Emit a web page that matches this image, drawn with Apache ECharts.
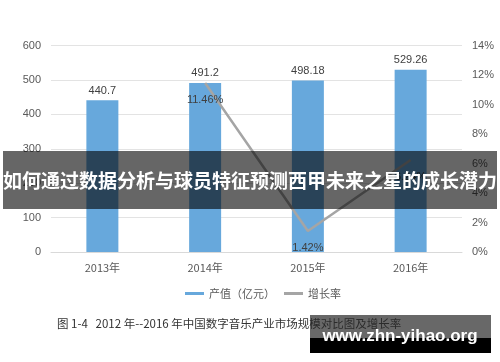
<!DOCTYPE html>
<html><head><meta charset="utf-8">
<script src="https://cdn.jsdelivr.net/npm/echarts@6/dist/echarts.min.js"></script>
<style>html,body{margin:0;padding:0;background:#fff;}#c{width:500px;height:362px;}</style>
</head><body><div id="c"></div>
<script>
var categories = ['2013年', '2014年', '2015年', '2016年'];
var outputValues = [440.7, 491.2, 498.18, 529.26];
var growthRates = [null, 11.46, 1.42, 6.24];
var leftTicks = [0, 600, 100];
var rightTicks = [0, 14, 2];
var seriesNames = ['产值（亿元）', '增长率'];
var bannerText = '如何通过数据分析与球员特征预测西甲未来之星的成长潜力';
var captionText = '图 1-4   2012 年--2016 年中国数字音乐产业市场规模对比图及增长率';
var watermarkText = 'www.zhn-yihao.org';

var chart = echarts.init(document.getElementById('c'), null, {renderer: 'canvas'});
var axisLabelStyle = {color: '#595959', fontSize: 11, fontFamily: 'Liberation Sans, Arial, sans-serif'};
chart.setOption({
  animation: false,
  grid: {left: 51, right: 38, top: 45.5, bottom: 110},
  legend: {
    bottom: 58, left: 180, itemGap: 9,
    textStyle: {color: '#595959', fontSize: 11, fontFamily: 'Noto Sans CJK SC'},
    data: [
      {name: seriesNames[0], icon: 'rect', itemStyle: {color: '#67a8dc'}},
      {name: seriesNames[1], icon: 'rect', itemStyle: {color: '#a5a5a5'}}
    ],
    itemWidth: 19, itemHeight: 3
  },
  xAxis: {
    type: 'category', data: categories,
    axisLine: {lineStyle: {color: '#d9d9d9'}}, axisTick: {show: false},
    axisLabel: Object.assign({margin: 10}, axisLabelStyle, {fontFamily: 'Noto Sans CJK SC'})
  },
  yAxis: [
    {type: 'value', min: leftTicks[0], max: leftTicks[1], interval: leftTicks[2],
     axisLine: {show: false}, axisTick: {show: false},
     splitLine: {lineStyle: {color: '#e3e3e3'}},
     axisLabel: Object.assign({margin: 10}, axisLabelStyle)},
    {type: 'value', min: rightTicks[0], max: rightTicks[1], interval: rightTicks[2],
     axisLine: {show: false}, axisTick: {show: false}, splitLine: {show: false},
     axisLabel: Object.assign({margin: 10, formatter: '{value}%'}, axisLabelStyle)}
  ],
  series: [
    {name: seriesNames[0], type: 'bar', data: outputValues, barWidth: 32,
     itemStyle: {color: '#67a8dc'},
     label: {show: true, position: 'top', distance: 4, color: '#404040', fontSize: 11, fontFamily: 'Liberation Sans, Arial, sans-serif'}},
    {name: seriesNames[1], type: 'line', yAxisIndex: 1, data: growthRates, z: 3,
     symbol: 'circle', symbolSize: 1, showSymbol: true,
     lineStyle: {color: '#a5a5a5', width: 2.5}, itemStyle: {color: 'rgba(165,165,165,0)'},
     label: {show: true, position: 'bottom', distance: 11, color: '#404040', fontSize: 11,
       fontFamily: 'Liberation Sans, Arial, sans-serif', formatter: function(p){return p.value.toFixed(2)+'%';}}}
  ],
  graphic: [
    {type: 'text', left: 57, top: 318, z: 10,
     style: {text: captionText, fill: '#333', fontSize: 11.5, fontFamily: 'Noto Sans CJK SC'}},
    {type: 'rect', shape: {x: 3, y: 151, width: 494, height: 58}, z: 20,
     style: {fill: 'rgba(0,0,0,0.6)'}},
    {type: 'text', x: 250, y: 181, z: 21,
     style: {text: bannerText, fill: '#fff', fontSize: 19, fontWeight: 'bold', fontFamily: 'Noto Sans CJK SC',
       textAlign: 'center', textVerticalAlign: 'middle'}},
    {type: 'rect', shape: {x: 310, y: 315, width: 181, height: 23}, z: 20,
     style: {fill: 'rgba(40,40,40,0.7)'}},
    {type: 'rect', shape: {x: 310, y: 338, width: 181, height: 15}, z: 20,
     style: {fill: '#000'}},
    {type: 'text', x: 400, y: 336, z: 21,
     style: {text: watermarkText, fill: '#fff', fontSize: 17, fontWeight: 'bold', fontFamily: 'Liberation Sans, Arial, sans-serif',
       textAlign: 'center', textVerticalAlign: 'middle'}}
  ]
});
</script></body></html>
